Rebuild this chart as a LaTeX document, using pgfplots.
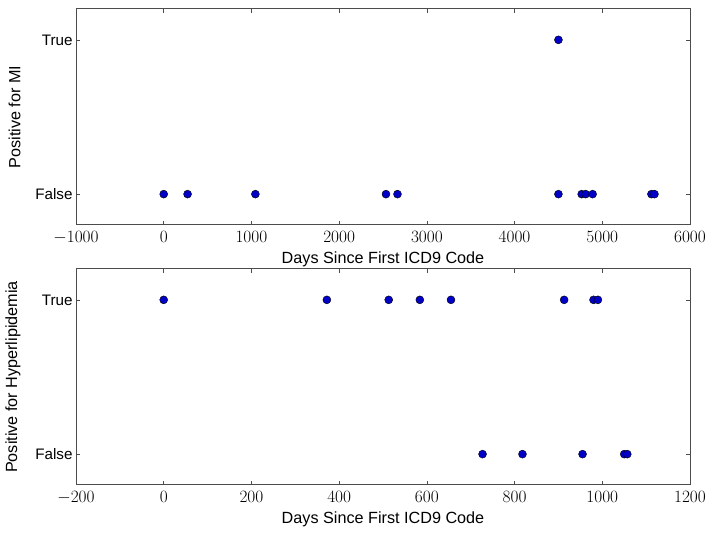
\documentclass[border=0pt]{standalone}
\usepackage{pgfplots}
\pgfplotsset{compat=1.18}
\usepackage{fontspec}
\setmainfont{Liberation Sans}

\definecolor{dotblue}{rgb}{0,0,0.78}
\definecolor{framegray}{rgb}{0.3,0.3,0.3}

\pgfplotsset{
  daysplot/.style={
    scale only axis,
    width=614pt, height=216pt,
    anchor=north west,
    ymin=-0.2, ymax=1.2,
    ytick={0,1}, yticklabels={False,True},
    tick align=inside,
    xtick pos=both, ytick pos=both,
    major tick length=4pt,
    tick style={framegray, line width=0.6pt},
    axis line style={framegray, line width=1pt},
    xlabel={Days Since First ICD9 Code},
    xlabel style={font=\fontsize{16.2}{18}\selectfont, yshift=-1pt},
    ylabel style={font=\fontsize{16.2}{18}\selectfont, yshift=8pt},
    x tick label style={font=\fontsize{16.5}{19}\selectfont, yshift=-3pt},
    y tick label style={font=\fontsize{15.2}{17}\selectfont},
    scaled x ticks=false,
    xticklabel style={/pgf/number format/1000 sep={}},
    clip=false,
  },
  dots/.style={only marks, mark=*, mark size=4pt,
    mark options={fill=dotblue, draw=black, line width=0.4pt}},
}

\begin{document}
\begin{tikzpicture}
\useasboundingbox (0pt,0pt) rectangle (714pt,534pt);

% top panel: MI
\begin{axis}[daysplot, at={(76pt,525pt)},
  xmin=-1000, xmax=6000, xtick={-1000,0,...,6000},
  ylabel={Positive for MI}]
\addplot[dots] coordinates {
  (0,0) (272,0) (1045,0) (2534,0) (2665,0) (4500,0)
  (4765,0) (4810,0) (4890,0) (5560,0) (5595,0)
  (4500,1)
};
\end{axis}

% bottom panel: hyperlipidemia
\begin{axis}[daysplot, at={(76pt,265pt)},
  xmin=-200, xmax=1200, xtick={-200,0,...,1200},
  ylabel={Positive for Hyperlipidemia}]
\addplot[dots] coordinates {
  (0,1) (372,1) (513,1) (584,1) (655,1) (913,1) (980,1) (990,1)
  (727,0) (818,0) (955,0) (1050,0) (1057,0)
};
\end{axis}
\end{tikzpicture}
\end{document}
